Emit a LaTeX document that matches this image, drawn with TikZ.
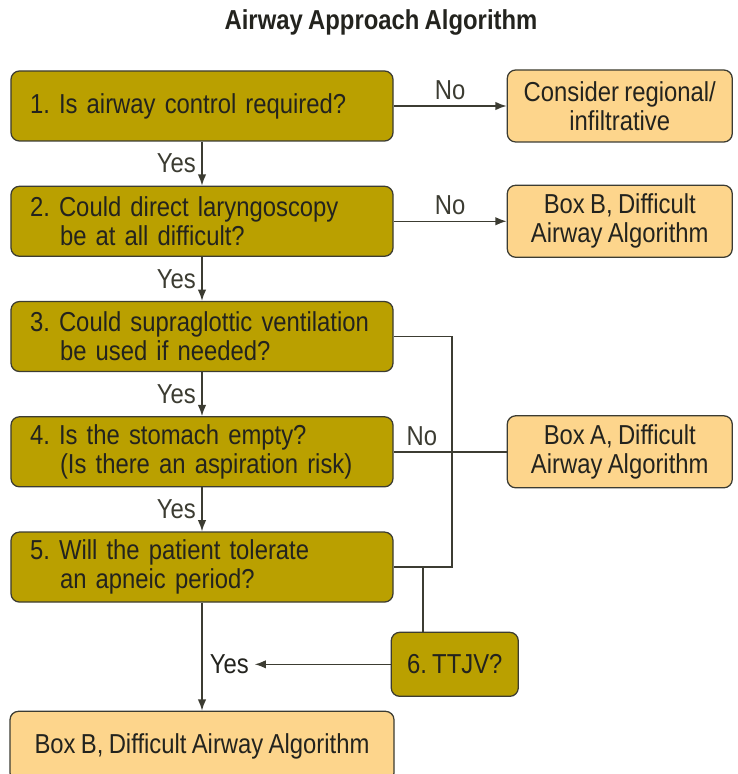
\documentclass[tikz,border=0pt]{standalone}
\usepackage{fontspec}
\setmainfont[FakeStretch=0.87, WordSpace=0.8]{Liberation Sans}
\usetikzlibrary{positioning, calc, arrows.meta}
\definecolor{qOlive}{RGB}{186, 160, 0}
\definecolor{outTan}{RGB}{253, 213, 140}
\definecolor{edgeGray}{RGB}{60, 60, 50}
\definecolor{inkDark}{RGB}{35, 35, 30}
\newcommand{\qindent}{\hspace*{0.75cm}}
\frenchspacing

\begin{document}
\begin{tikzpicture}[
    font=\fontsize{19.5}{20.5}\selectfont, text=inkDark,
    box/.style={rectangle, draw=edgeGray, line width=0.9pt, rounded corners=6pt},
    question/.style={box, fill=qOlive, minimum height=1.75cm, text width=8.6cm,
                     inner xsep=0.475cm, align=left},
    outcome/.style={box, fill=outTan, minimum width=5.625cm, minimum height=1.8cm,
                    align=center},
    arrow/.style={-{Latex[length=8pt,width=6pt]}, line width=1pt, edgeGray},
    link/.style={line width=1pt, edgeGray},
    lbl/.style={inner sep=4pt},
  ]
    \useasboundingbox (0,0) rectangle (18.425,-19.35);

    \node[font=\fontsize{19.5}{20.5}\selectfont\bfseries] (title) at (9.525,-0.55)
        {Airway Approach Algorithm};

    % question column
    \node[question] (Q1) at (5.05,-2.65) {1. Is airway control required?};
    \node[question, below=1.1cm of Q1] (Q2) {2. Could direct laryngoscopy\\\qindent be at all difficult?};
    \node[question, below=1.1cm of Q2] (Q3) {3. Could supraglottic ventilation\\\qindent be used if needed?};
    \node[question, below=1.1cm of Q3] (Q4) {4. Is the stomach empty?\\\qindent(Is there an aspiration risk)};
    \node[question, below=1.1cm of Q4] (Q5) {5. Will the patient tolerate\\\qindent an apneic period?};
    \node[outcome, minimum width=9.6cm, minimum height=1.75cm,
          below=2.7cm of Q5] (BoxBend) {Box B, Difficult Airway Algorithm};

    % outcomes on the right
    \node[outcome, right=2.825cm of Q1] (Regional) {Consider regional/\\infiltrative};
    \node[outcome, right=2.825cm of Q2] (BoxB) {Box B, Difficult\\Airway Algorithm};
    \node[outcome, right=2.825cm of Q4] (BoxA) {Box A, Difficult\\Airway Algorithm};
    \node[box, fill=qOlive, minimum width=3.175cm, minimum height=1.6cm,
          below=0.725cm of Q5.south east, anchor=north west, xshift=-0.075cm] (TTJV) {6. TTJV?};

    \draw[arrow] (Q1) -- node[lbl, left] {Yes} (Q2);
    \draw[arrow] (Q2) -- node[lbl, left] {Yes} (Q3);
    \draw[arrow] (Q3) -- node[lbl, left] {Yes} (Q4);
    \draw[arrow] (Q4) -- node[lbl, left] {Yes} (Q5);
    \draw[arrow] (Q5) -- (BoxBend);

    \draw[arrow] (Q1) -- node[lbl, above] {No} (Regional);
    \draw[arrow] (Q2) -- node[lbl, above] {No} (BoxB);

    % "No" bracket from 3, 4, 5
    \coordinate (brk) at (11.3,0);
    \draw[link] (Q3.east) -- (Q3.east -| brk) -- (Q5.east -| brk) -- (Q5.east);
    \draw[link] (Q4) -- node[lbl, above, pos=0.25] {No} (BoxA);
    \coordinate (tap) at ($(Q5.east)!0.5!(Q5.east -| brk)$);
    \draw[link] (tap) -- (tap |- TTJV.north);

    \node[lbl, anchor=west, xshift=0.05cm] (Yes6) at (Q5.south |- TTJV.west) {Yes};
    \draw[arrow] (TTJV) -- (Yes6);
\end{tikzpicture}
\end{document}
